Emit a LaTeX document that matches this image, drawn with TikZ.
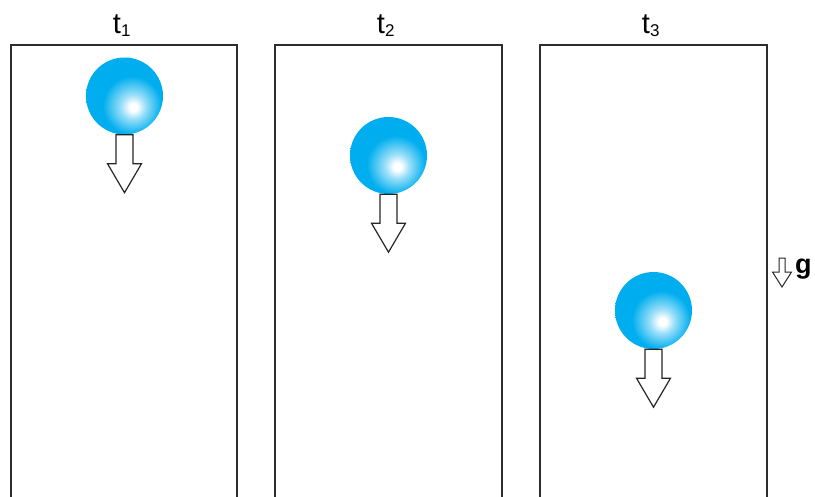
\documentclass[tikz,border=0pt]{standalone}
\usepackage{fontspec}
\setmainfont{Liberation Sans}
\definecolor{ballc}{RGB}{0,174,239}
\definecolor{boxc}{RGB}{45,45,45}
\pgfdeclareradialshading{ballshade}{\pgfpoint{6bp}{-7.5bp}}{%
  color(0bp)=(white); color(2.5bp)=(white); color(8bp)=(ballc!40!white);
  color(19bp)=(ballc); color(100bp)=(ballc)}
\begin{document}
\begin{tikzpicture}[x=1pt,y=-1pt,
  frame/.style={draw=boxc,line width=1.4pt},
  ball/.style={circle,minimum size=77pt,inner sep=0pt,shading=ballshade},
  hollow/.style={draw=black!85,line width=1.2pt,fill=white,line join=miter},
  tlabel/.style={font=\fontsize{29}{29}\selectfont,anchor=base,inner sep=0pt}]
\useasboundingbox (0,0) rectangle (815,496);
% frames (open at bottom)
\draw[frame] (11,500) -- (11,45) -- (237,45) -- (237,500);
\draw[frame] (275,500) -- (275,45) -- (502,45) -- (502,500);
\draw[frame] (540,500) -- (540,45) -- (767,45) -- (767,500);
% labels
\node[tlabel] (l1) at (122,33) {t\textsubscript{\fontsize{17}{17}\selectfont 1}};
\node[tlabel] (l2) at (386,33) {t\textsubscript{\fontsize{17}{17}\selectfont 2}};
\node[tlabel] (l3) at (651,33) {t\textsubscript{\fontsize{17}{17}\selectfont 3}};
% balls
\node[ball] (b1) at (124.5,96) {};
\node[ball] (b2) at (388.5,155.5) {};
\node[ball] (b3) at (653.5,310.5) {};
% arrows
\foreach \b in {b1,b2,b3}{
  \draw[hollow] ([xshift=-8.5pt]\b.south) -- ++(0,29) -- ++(-8.5,0) -- ++(17,29)
     -- ++(17,-29) -- ++(-8.5,0) -- ++(0,-29) -- cycle;
}
% g arrow
\coordinate (g0) at (782,258);
\draw[draw=black!85,line width=1pt,fill=white] ([xshift=-3pt]g0) -- ++(0,14) -- ++(-6.5,0) -- ++(9.5,15)
   -- ++(9.5,-15) -- ++(-6.5,0) -- ++(0,-14) -- cycle;
\node[font=\bfseries\fontsize{27}{27}\selectfont,anchor=base west,inner sep=0pt] (g) at (795,273) {g};
\end{tikzpicture}
\end{document}
